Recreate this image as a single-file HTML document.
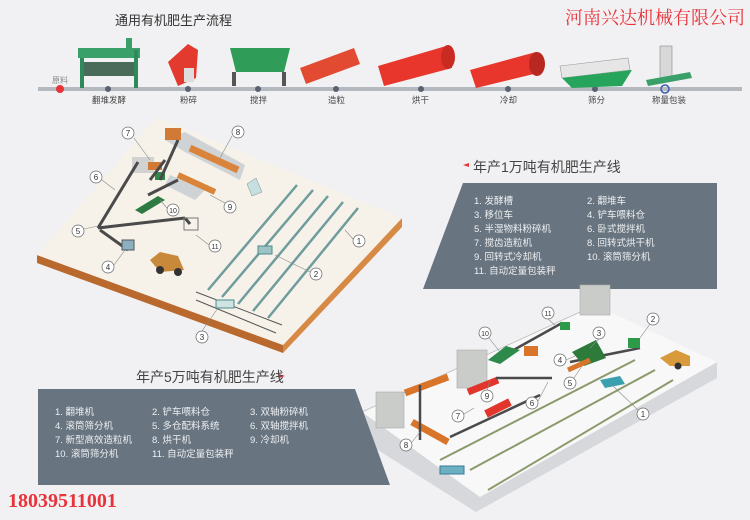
<!DOCTYPE html>
<html><head><meta charset="utf-8"><style>
html,body{margin:0;padding:0;background:#f1f1f3;}
body{width:750px;height:520px;overflow:hidden;position:relative;font-family:"Liberation Sans","Noto Sans CJK SC",sans-serif;}
.t{position:absolute;white-space:nowrap;}
</style></head><body>
<svg width="750" height="520" style="position:absolute;left:0;top:0" xmlns="http://www.w3.org/2000/svg" font-family="Liberation Sans, Noto Sans CJK SC, sans-serif">
<rect width="750" height="520" fill="#f1f1f3"/>
<line x1="38" y1="89" x2="742" y2="89" stroke="#b4b8bf" stroke-width="4"/>
<circle cx="60" cy="89" r="4" fill="#e8333a"/>
<g fill="#5a6270"><circle cx="108" cy="89" r="3"/><circle cx="188" cy="89" r="3"/><circle cx="258" cy="89" r="3"/><circle cx="336" cy="89" r="3"/><circle cx="421" cy="89" r="3"/><circle cx="508" cy="89" r="3"/><circle cx="595" cy="89" r="3"/></g>
<circle cx="665" cy="89" r="4" fill="none" stroke="#3b5bb0" stroke-width="1.5"/>
<rect x="78" y="48" width="62" height="10" fill="#3aa06a"/><rect x="80" y="58" width="4" height="30" fill="#2e8a5a"/><rect x="134" y="50" width="4" height="38" fill="#2e8a5a"/><rect x="84" y="62" width="50" height="14" fill="#4a6a5a"/><rect x="126" y="38" width="6" height="14" fill="#3aa06a"/>
<polygon points="168,62 188,44 198,50 196,78 178,86" fill="#e23a2e"/><rect x="184" y="68" width="10" height="14" fill="#ddd"/>
<polygon points="230,48 290,48 284,72 236,72" fill="#2f9c58"/><rect x="232" y="72" width="4" height="14" fill="#555"/><rect x="282" y="72" width="4" height="14" fill="#555"/>
<polygon points="300,68 354,48 360,64 306,84" fill="#e24a32"/>
<polygon points="378,66 446,46 452,68 384,86" fill="#e8362c"/><ellipse cx="448" cy="57" rx="7" ry="12" fill="#c92a22"/>
<polygon points="470,70 536,52 542,72 476,88" fill="#e8362c"/><ellipse cx="537" cy="64" rx="8" ry="12" fill="#b82820"/>
<polygon points="560,66 628,58 630,70 562,78" fill="#e6e6e6" stroke="#999" stroke-width="0.6"/><polygon points="562,78 632,70 622,86 572,88" fill="#27a45c"/>
<rect x="660" y="46" width="12" height="32" fill="#d8d8d8" stroke="#888" stroke-width="0.6"/><polygon points="646,80 690,72 692,78 648,86" fill="#3aa06a"/>

<polygon points="37,255 283,345 283,353 37,263" fill="#b9692e"/>
<polygon points="283,345 402,218 402,227 283,353" fill="#d78a45"/>
<polygon points="157,117 402,218 283,345 37,255" fill="#f6f2ea"/>
<g stroke="#6f9c9c" stroke-width="2.5">
<line x1="208" y1="290" x2="297" y2="185"/><line x1="222" y1="297" x2="313" y2="190"/><line x1="238" y1="304" x2="328" y2="196"/><line x1="253" y1="311" x2="343" y2="202"/><line x1="268" y1="318" x2="358" y2="208"/></g>
<g stroke="#555" stroke-width="1"><line x1="196" y1="292" x2="282" y2="325"/><line x1="196" y1="300" x2="276" y2="333"/></g>
<rect x="216" y="300" width="18" height="8" fill="#cfe3e3" stroke="#4b8a8a"/>
<rect x="258" y="246" width="14" height="8" fill="#9cc4c4" stroke="#4b8a8a"/>
<polygon points="165,140 185,132 245,165 240,180 185,152" fill="#cfd3d6"/>
<rect x="165" y="128" width="16" height="12" fill="#d07a36"/>
<line x1="190" y1="148" x2="238" y2="170" stroke="#d9843a" stroke-width="7"/>
<polygon points="170,175 205,190 195,200 165,185" fill="#cfd3d6"/>
<line x1="178" y1="175" x2="215" y2="192" stroke="#d9843a" stroke-width="6"/>
<rect x="132" y="157" width="22" height="16" fill="#d2d2d2"/><rect x="148" y="162" width="14" height="8" fill="#d07a36"/><rect x="155" y="172" width="10" height="8" fill="#2e8a4a"/>
<g stroke="#4a4a4a" stroke-width="3" fill="none">
<line x1="98" y1="228" x2="138" y2="162"/><line x1="98" y1="228" x2="185" y2="218"/><line x1="185" y1="218" x2="190" y2="224"/><line x1="100" y1="230" x2="128" y2="250"/><line x1="150" y1="180" x2="165" y2="160"/><line x1="148" y1="195" x2="178" y2="180"/><line x1="160" y1="180" x2="178" y2="140"/></g>
<polygon points="135,210 158,196 165,200 142,214" fill="#2f7a43"/>
<rect x="184" y="218" width="14" height="12" fill="none" stroke="#777"/>
<rect x="122" y="240" width="12" height="10" fill="#8db0c0" stroke="#555"/>
<polygon points="150,260 160,252 178,256 184,270 160,272" fill="#c88a3a"/><circle cx="160" cy="270" r="4" fill="#333"/><circle cx="178" cy="272" r="4" fill="#333"/>
<polygon points="247,184 256,178 262,192 252,196" fill="#c5e0e0" stroke="#888" stroke-width="0.5"/>

<polygon points="463,183 717,183 717,289 423,289" fill="#687480"/>

<polygon points="362,412 362,440 476,512 717,378 717,362 480,497" fill="#d6d8db"/>
<polygon points="362,412 595,305 717,362 480,497" fill="#f8f8f9"/>
<line x1="362" y1="412" x2="580" y2="312" stroke="#bbb" stroke-width="0.8"/>
<rect x="580" y="285" width="30" height="30" fill="#c9ccc9" stroke="#aaa" stroke-width="0.6"/>
<rect x="457" y="350" width="30" height="38" fill="#c9ccc9" stroke="#aaa" stroke-width="0.6"/>
<rect x="376" y="392" width="28" height="36" fill="#c9ccc9" stroke="#aaa" stroke-width="0.6"/>
<g stroke="#8a9a6a" stroke-width="2"><line x1="440" y1="460" x2="635" y2="360"/><line x1="470" y1="470" x2="655" y2="370"/><line x1="488" y1="490" x2="673" y2="380"/></g>
<rect x="440" y="466" width="24" height="8" fill="#6ab0c0" stroke="#3a7a9a"/>
<polygon points="600,380 620,376 625,384 605,388" fill="#3aa0b0"/>
<g stroke="#d8752a" stroke-width="7"><line x1="405" y1="393" x2="448" y2="377"/><line x1="412" y1="422" x2="448" y2="442"/></g>
<line x1="468" y1="392" x2="498" y2="380" stroke="#e2362c" stroke-width="7"/>
<line x1="486" y1="414" x2="510" y2="402" stroke="#e2362c" stroke-width="8"/>
<g stroke="#4a4a4a" stroke-width="2.5"><line x1="450" y1="437" x2="540" y2="395"/><line x1="496" y1="378" x2="552" y2="378"/><line x1="510" y1="352" x2="562" y2="323"/><line x1="570" y1="362" x2="640" y2="348"/><line x1="420" y1="385" x2="420" y2="440"/></g>
<polygon points="488,360 506,346 520,350 500,364" fill="#2d8a4a"/>
<rect x="524" y="346" width="14" height="10" fill="#d8752a"/>
<rect x="560" y="322" width="10" height="8" fill="#2d9a4a"/>
<polygon points="572,352 596,340 606,358 584,366" fill="#2d7a3a"/>
<line x1="568" y1="370" x2="590" y2="360" stroke="#d8752a" stroke-width="5"/>
<rect x="628" y="338" width="12" height="10" fill="#2d9a4a"/>
<polygon points="660,358 676,350 690,356 690,366 670,366" fill="#d89a3a"/><circle cx="678" cy="366" r="3.5" fill="#333"/>

<polygon points="38,389 355,389 390,485 38,485" fill="#687480"/>

<g fill="#fff" stroke="#666" stroke-width="0.7" font-size="8" text-anchor="middle">
<g><circle cx="128" cy="133" r="6"/><circle cx="238" cy="132" r="6"/><circle cx="96" cy="177" r="6"/><circle cx="78" cy="231" r="6"/><circle cx="173" cy="210" r="6"/><circle cx="230" cy="207" r="6"/><circle cx="215" cy="246" r="6"/><circle cx="108" cy="267" r="6"/><circle cx="359" cy="241" r="6"/><circle cx="316" cy="274" r="6"/><circle cx="202" cy="337" r="6"/>
<circle cx="485" cy="333" r="6"/><circle cx="548" cy="313" r="6"/><circle cx="653" cy="319" r="6"/><circle cx="599" cy="333" r="6"/><circle cx="560" cy="360" r="6"/><circle cx="570" cy="383" r="6"/><circle cx="532" cy="403" r="6"/><circle cx="487" cy="396" r="6"/><circle cx="458" cy="416" r="6"/><circle cx="406" cy="445" r="6"/><circle cx="643" cy="414" r="6"/></g>
<g fill="#333" stroke="none">
<text x="128" y="136">7</text><text x="238" y="135">8</text><text x="96" y="180">6</text><text x="78" y="234">5</text><text x="173" y="213" font-size="7">10</text><text x="230" y="210">9</text><text x="215" y="249" font-size="7">11</text><text x="108" y="270">4</text><text x="359" y="244">1</text><text x="316" y="277">2</text><text x="202" y="340">3</text>
<text x="485" y="336" font-size="7">10</text><text x="548" y="316" font-size="7">11</text><text x="653" y="322">2</text><text x="599" y="336">3</text><text x="560" y="363">4</text><text x="570" y="386">5</text><text x="532" y="406">6</text><text x="487" y="399">9</text><text x="458" y="419">7</text><text x="406" y="448">8</text><text x="643" y="417">1</text></g>
<g fill="none" stroke="#888" stroke-width="0.6">
<line x1="134" y1="138" x2="150" y2="160"/><line x1="232" y1="136" x2="220" y2="158"/><line x1="102" y1="180" x2="115" y2="190"/><line x1="84" y1="229" x2="98" y2="226"/><line x1="167" y1="208" x2="160" y2="200"/><line x1="225" y1="203" x2="210" y2="195"/><line x1="209" y1="245" x2="196" y2="235"/><line x1="114" y1="265" x2="125" y2="250"/><line x1="353" y1="239" x2="345" y2="230"/><line x1="310" y1="272" x2="275" y2="255"/><line x1="202" y1="331" x2="218" y2="308"/>
<line x1="489" y1="338" x2="500" y2="352"/><line x1="548" y1="319" x2="556" y2="326"/><line x1="650" y1="324" x2="640" y2="338"/><line x1="599" y1="339" x2="590" y2="348"/><line x1="566" y1="360" x2="575" y2="356"/><line x1="574" y1="378" x2="582" y2="366"/><line x1="538" y1="401" x2="548" y2="382"/><line x1="487" y1="390" x2="490" y2="380"/><line x1="464" y1="414" x2="474" y2="408"/><line x1="412" y1="442" x2="420" y2="432"/><line x1="638" y1="410" x2="612" y2="385"/></g>
</g>
<polygon points="463,165 469,163 469,167" fill="#e8333a"/>
<polygon points="285,376 279,374 279,378" fill="#e8333a"/>
</svg>

<div class="t" style="left:115px;top:10px;font-size:13px;color:#333;">通用有机肥生产流程</div>
<div class="t" style="left:565px;top:4px;font-size:18px;color:#e8333a;font-family:'Liberation Serif','Noto Serif CJK SC',serif;">河南兴达机械有限公司</div>
<div class="t" style="left:52px;top:75px;font-size:8px;color:#888;">原料</div>
<div class="t" style="font-size:8.5px;color:#444;top:94px;left:92px;">翻堆发酵</div>
<div class="t" style="font-size:8.5px;color:#444;top:94px;left:180px;">粉碎</div>
<div class="t" style="font-size:8.5px;color:#444;top:94px;left:250px;">搅拌</div>
<div class="t" style="font-size:8.5px;color:#444;top:94px;left:328px;">造粒</div>
<div class="t" style="font-size:8.5px;color:#444;top:94px;left:412px;">烘干</div>
<div class="t" style="font-size:8.5px;color:#444;top:94px;left:500px;">冷却</div>
<div class="t" style="font-size:8.5px;color:#444;top:94px;left:588px;">筛分</div>
<div class="t" style="font-size:8.5px;color:#444;top:94px;left:652px;">称量包装</div>

<div class="t" style="left:473px;top:157px;font-size:14px;color:#444;">年产1万吨有机肥生产线</div>
<div class="t" style="left:474px;top:195px;font-size:9.5px;color:#eef0f2;line-height:14px;">1. 发酵槽<br>3. 移位车<br>5. 半湿物料粉碎机<br>7. 搅齿造粒机<br>9. 回转式冷却机<br>11. 自动定量包装秤</div>
<div class="t" style="left:587px;top:195px;font-size:9.5px;color:#eef0f2;line-height:14px;">2. 翻堆车<br>4. 铲车喂料仓<br>6. 卧式搅拌机<br>8. 回转式烘干机<br>10. 滚筒筛分机</div>

<div class="t" style="left:136px;top:367px;font-size:14px;color:#444;">年产5万吨有机肥生产线</div>
<div class="t" style="left:55px;top:406px;font-size:9.5px;color:#eef0f2;line-height:14px;">1. 翻堆机<br>4. 滚筒筛分机<br>7. 新型高效造粒机<br>10. 滚筒筛分机</div>
<div class="t" style="left:152px;top:406px;font-size:9.5px;color:#eef0f2;line-height:14px;">2. 铲车喂料仓<br>5. 多仓配料系统<br>8. 烘干机<br>11. 自动定量包装秤</div>
<div class="t" style="left:250px;top:406px;font-size:9.5px;color:#eef0f2;line-height:14px;">3. 双轴粉碎机<br>6. 双轴搅拌机<br>9. 冷却机</div>

<div class="t" style="left:8px;top:490px;font-size:20px;font-weight:bold;color:#e8333a;font-family:'Liberation Serif',serif;">18039511001</div>
</body></html>
